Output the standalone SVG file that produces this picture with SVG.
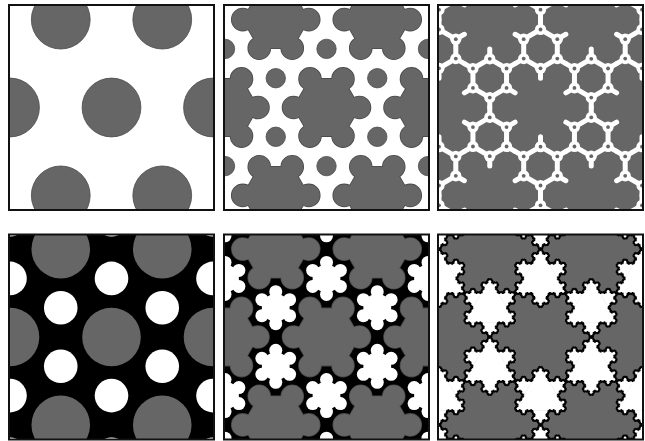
<svg xmlns="http://www.w3.org/2000/svg" width="645" height="441" viewBox="0 0 645 441">
<defs>
<style>
.fr{fill:none;stroke:#111;stroke-width:2}
.ve{vector-effect:non-scaling-stroke}
.wl{fill:none;stroke:#fff;stroke-width:5;stroke-linejoin:round;stroke-linecap:round}
</style>
<clipPath id="cp"><rect x="-102.5" y="-102.5" width="205" height="205"/></clipPath>
<circle id="c1" r="29.4" fill="#666" stroke="#4a4a4a" stroke-width="0.8"/>
<circle id="c4g" r="29.3" fill="#666"/>
<circle id="c4w" r="16.8" fill="#fff"/>
<circle id="sd" r="9.7" fill="#666" stroke="#4a4a4a" stroke-width="0.8"/>
<g id="blobshape">
<polygon points="33,0 16.5,-28.58 -16.5,-28.58 -33,0 -16.5,28.58 16.5,28.58"/>
<circle cx="33" cy="0" r="11"/><circle cx="16.5" cy="-28.58" r="11"/><circle cx="-16.5" cy="-28.58" r="11"/>
<circle cx="-33" cy="0" r="11"/><circle cx="-16.5" cy="28.58" r="11"/><circle cx="16.5" cy="28.58" r="11"/>
</g>
<g id="blob" fill="#666"><use href="#blobshape" stroke="#4a4a4a" stroke-width="1.6"/><use href="#blobshape"/></g>
<g id="star" fill="#fff">
<polygon points="0,-16 13.86,-8 13.86,8 0,16 -13.86,8 -13.86,-8"/>
<circle cx="0" cy="-16" r="6.5"/><circle cx="13.86" cy="-8" r="6.5"/><circle cx="13.86" cy="8" r="6.5"/>
<circle cx="0" cy="16" r="6.5"/><circle cx="-13.86" cy="8" r="6.5"/><circle cx="-13.86" cy="-8" r="6.5"/>
</g>
<!-- Koch outline -->
<polyline id="k1" class="ve" fill="none" points="0,0 .333333,0 .5,-.288675 .666667,0 1,0"/>
<g id="k2"><use href="#k1" transform="scale(.333333)"/><use href="#k1" transform="translate(.333333,0) rotate(-60) scale(.333333)"/><use href="#k1" transform="translate(.5,-.288675) rotate(60) scale(.333333)"/><use href="#k1" transform="translate(.666667,0) scale(.333333)"/></g>
<g id="k3"><use href="#k2" transform="scale(.333333)"/><use href="#k2" transform="translate(.333333,0) rotate(-60) scale(.333333)"/><use href="#k2" transform="translate(.5,-.288675) rotate(60) scale(.333333)"/><use href="#k2" transform="translate(.666667,0) scale(.333333)"/></g>
<g id="k4"><use href="#k3" transform="scale(.333333)"/><use href="#k3" transform="translate(.333333,0) rotate(-60) scale(.333333)"/><use href="#k3" transform="translate(.5,-.288675) rotate(60) scale(.333333)"/><use href="#k3" transform="translate(.666667,0) scale(.333333)"/></g>
<g id="ko"><use href="#k4" transform="translate(0,-1) rotate(60) scale(1.732051)"/><use href="#k4" transform="translate(.866025,.5) rotate(180) scale(1.732051)"/><use href="#k4" transform="translate(-.866025,.5) rotate(-60) scale(1.732051)"/></g>
<!-- Koch fill -->
<polygon id="f1" class="ve" points=".333333,0 .5,-.288675 .666667,0"/>
<g id="f2"><use href="#f1"/><use href="#f1" transform="scale(.333333)"/><use href="#f1" transform="translate(.333333,0) rotate(-60) scale(.333333)"/><use href="#f1" transform="translate(.5,-.288675) rotate(60) scale(.333333)"/><use href="#f1" transform="translate(.666667,0) scale(.333333)"/></g>
<g id="f3"><use href="#f1"/><use href="#f2" transform="scale(.333333)"/><use href="#f2" transform="translate(.333333,0) rotate(-60) scale(.333333)"/><use href="#f2" transform="translate(.5,-.288675) rotate(60) scale(.333333)"/><use href="#f2" transform="translate(.666667,0) scale(.333333)"/></g>
<g id="f4"><use href="#f1"/><use href="#f3" transform="scale(.333333)"/><use href="#f3" transform="translate(.333333,0) rotate(-60) scale(.333333)"/><use href="#f3" transform="translate(.5,-.288675) rotate(60) scale(.333333)"/><use href="#f3" transform="translate(.666667,0) scale(.333333)"/></g>
<g id="kf"><polygon class="ve" points="0,-1 .866025,.5 -.866025,.5"/><use href="#f4" transform="translate(0,-1) rotate(60) scale(1.732051)"/><use href="#f4" transform="translate(.866025,.5) rotate(180) scale(1.732051)"/><use href="#f4" transform="translate(-.866025,.5) rotate(-60) scale(1.732051)"/></g>
<g id="sf" fill="#fff" stroke="#fff" stroke-width=".5"><use href="#kf" transform="scale(29.3)"/></g>
<g id="so" stroke="#000" stroke-width="1.9" stroke-linejoin="round"><use href="#ko" transform="scale(29.3)"/></g>
<!-- panel 3 network -->
<path id="net" class="wl" d="M0,-19.4L16.8,-9.7L16.8,9.7L0,19.4L-16.8,9.7L-16.8,-9.7Z M0,-19.4V-29.3 M16.8,-9.7L25.37,-14.65 M16.8,9.7L25.37,14.65 M0,19.4V29.3 M-16.8,9.7L-25.37,14.65 M-16.8,-9.7L-25.37,-14.65"/>
<g id="ring"><circle r="5.6" fill="#fff"/><circle r="1.9" fill="#666"/></g>
<g id="rings">
<use href="#ring" x="0" y="-19.4"/><use href="#ring" x="16.8" y="-9.7"/><use href="#ring" x="16.8" y="9.7"/>
<use href="#ring" x="0" y="19.4"/><use href="#ring" x="-16.8" y="9.7"/><use href="#ring" x="-16.8" y="-9.7"/>
</g>
</defs>

<g id="panel1" transform="translate(111.5,107.5)">
<g clip-path="url(#cp)">
<rect x="-102.5" y="-102.5" width="205" height="205" fill="#fff"/>
<use href="#c1" x="0" y="0"/><use href="#c1" x="101.5" y="0"/><use href="#c1" x="-101.5" y="0"/>
<use href="#c1" x="50.75" y="-87.9"/><use href="#c1" x="-50.75" y="-87.9"/><use href="#c1" x="50.75" y="87.9"/><use href="#c1" x="-50.75" y="87.9"/>
</g>
<rect class="fr" x="-102.5" y="-102.5" width="205" height="205"/>
</g>

<g id="panel2" transform="translate(326.5,107.5)">
<g clip-path="url(#cp)">
<rect x="-102.5" y="-102.5" width="205" height="205" fill="#fff"/>
<use href="#blob" x="0" y="0"/><use href="#blob" x="101.5" y="0"/><use href="#blob" x="-101.5" y="0"/>
<use href="#blob" x="50.75" y="-87.9"/><use href="#blob" x="-50.75" y="-87.9"/><use href="#blob" x="50.75" y="87.9"/><use href="#blob" x="-50.75" y="87.9"/>
<use href="#sd" x="0" y="-58.6"/><use href="#sd" x="0" y="58.6"/><use href="#sd" x="101.5" y="-58.6"/><use href="#sd" x="-101.5" y="-58.6"/>
<use href="#sd" x="101.5" y="58.6"/><use href="#sd" x="-101.5" y="58.6"/><use href="#sd" x="50.75" y="-29.3"/><use href="#sd" x="-50.75" y="-29.3"/>
<use href="#sd" x="50.75" y="29.3"/><use href="#sd" x="-50.75" y="29.3"/>
</g>
<rect class="fr" x="-102.5" y="-102.5" width="205" height="205"/>
</g>

<g id="panel3" transform="translate(540.5,107.5)">
<g clip-path="url(#cp)">
<rect x="-102.5" y="-102.5" width="205" height="205" fill="#666"/>
<use href="#net" x="0" y="-58.6"/><use href="#net" x="0" y="58.6"/><use href="#net" x="101.5" y="-58.6"/><use href="#net" x="-101.5" y="-58.6"/>
<use href="#net" x="101.5" y="58.6"/><use href="#net" x="-101.5" y="58.6"/><use href="#net" x="50.75" y="-29.3"/><use href="#net" x="-50.75" y="-29.3"/>
<use href="#net" x="50.75" y="29.3"/><use href="#net" x="-50.75" y="29.3"/><use href="#net" x="0" y="-117.2"/><use href="#net" x="0" y="117.2"/>
<use href="#net" x="101.5" y="-117.2"/><use href="#net" x="-101.5" y="-117.2"/><use href="#net" x="101.5" y="117.2"/><use href="#net" x="-101.5" y="117.2"/>
<use href="#rings" x="0" y="-58.6"/><use href="#rings" x="0" y="58.6"/><use href="#rings" x="101.5" y="-58.6"/><use href="#rings" x="-101.5" y="-58.6"/>
<use href="#rings" x="101.5" y="58.6"/><use href="#rings" x="-101.5" y="58.6"/><use href="#rings" x="50.75" y="-29.3"/><use href="#rings" x="-50.75" y="-29.3"/>
<use href="#rings" x="50.75" y="29.3"/><use href="#rings" x="-50.75" y="29.3"/><use href="#rings" x="0" y="-117.2"/><use href="#rings" x="0" y="117.2"/>
<use href="#rings" x="101.5" y="-117.2"/><use href="#rings" x="-101.5" y="-117.2"/><use href="#rings" x="101.5" y="117.2"/><use href="#rings" x="-101.5" y="117.2"/>
</g>
<rect class="fr" x="-102.5" y="-102.5" width="205" height="205"/>
</g>

<g id="panel4" transform="translate(111.5,337)">
<g clip-path="url(#cp)">
<rect x="-102.5" y="-102.5" width="205" height="205" fill="#000"/>
<use href="#c4g" x="0" y="0"/><use href="#c4g" x="101.5" y="0"/><use href="#c4g" x="-101.5" y="0"/>
<use href="#c4g" x="50.75" y="-87.9"/><use href="#c4g" x="-50.75" y="-87.9"/><use href="#c4g" x="50.75" y="87.9"/><use href="#c4g" x="-50.75" y="87.9"/>
<use href="#c4w" x="0" y="-58.6"/><use href="#c4w" x="0" y="58.6"/><use href="#c4w" x="101.5" y="-58.6"/><use href="#c4w" x="-101.5" y="-58.6"/>
<use href="#c4w" x="101.5" y="58.6"/><use href="#c4w" x="-101.5" y="58.6"/><use href="#c4w" x="50.75" y="-29.3"/><use href="#c4w" x="-50.75" y="-29.3"/>
<use href="#c4w" x="50.75" y="29.3"/><use href="#c4w" x="-50.75" y="29.3"/><use href="#c4w" x="0" y="-117.2"/><use href="#c4w" x="0" y="117.2"/>
<use href="#c4w" x="101.5" y="-117.2"/><use href="#c4w" x="-101.5" y="-117.2"/><use href="#c4w" x="101.5" y="117.2"/><use href="#c4w" x="-101.5" y="117.2"/>
</g>
<rect class="fr" x="-102.5" y="-102.5" width="205" height="205"/>
</g>

<g id="panel5" transform="translate(326.5,337)">
<g clip-path="url(#cp)">
<rect x="-102.5" y="-102.5" width="205" height="205" fill="#000"/>
<use href="#blob" x="0" y="0"/><use href="#blob" x="101.5" y="0"/><use href="#blob" x="-101.5" y="0"/>
<use href="#blob" x="50.75" y="-87.9"/><use href="#blob" x="-50.75" y="-87.9"/><use href="#blob" x="50.75" y="87.9"/><use href="#blob" x="-50.75" y="87.9"/>
<use href="#star" x="0" y="-58.6"/><use href="#star" x="0" y="58.6"/><use href="#star" x="101.5" y="-58.6"/><use href="#star" x="-101.5" y="-58.6"/>
<use href="#star" x="101.5" y="58.6"/><use href="#star" x="-101.5" y="58.6"/><use href="#star" x="50.75" y="-29.3"/><use href="#star" x="-50.75" y="-29.3"/>
<use href="#star" x="50.75" y="29.3"/><use href="#star" x="-50.75" y="29.3"/><use href="#star" x="0" y="-117.2"/><use href="#star" x="0" y="117.2"/>
<use href="#star" x="101.5" y="-117.2"/><use href="#star" x="-101.5" y="-117.2"/><use href="#star" x="101.5" y="117.2"/><use href="#star" x="-101.5" y="117.2"/>
</g>
<rect class="fr" x="-102.5" y="-102.5" width="205" height="205"/>
</g>

<g id="panel6" transform="translate(540.5,337)">
<g clip-path="url(#cp)">
<rect x="-102.5" y="-102.5" width="205" height="205" fill="#666"/>
<use href="#sf" x="0" y="-58.6"/><use href="#sf" x="0" y="58.6"/><use href="#sf" x="101.5" y="-58.6"/><use href="#sf" x="-101.5" y="-58.6"/>
<use href="#sf" x="101.5" y="58.6"/><use href="#sf" x="-101.5" y="58.6"/><use href="#sf" x="50.75" y="-29.3"/><use href="#sf" x="-50.75" y="-29.3"/>
<use href="#sf" x="50.75" y="29.3"/><use href="#sf" x="-50.75" y="29.3"/><use href="#sf" x="0" y="-117.2"/><use href="#sf" x="0" y="117.2"/>
<use href="#sf" x="101.5" y="-117.2"/><use href="#sf" x="-101.5" y="-117.2"/><use href="#sf" x="101.5" y="117.2"/><use href="#sf" x="-101.5" y="117.2"/>
<use href="#so" x="0" y="-58.6"/><use href="#so" x="0" y="58.6"/><use href="#so" x="101.5" y="-58.6"/><use href="#so" x="-101.5" y="-58.6"/>
<use href="#so" x="101.5" y="58.6"/><use href="#so" x="-101.5" y="58.6"/><use href="#so" x="50.75" y="-29.3"/><use href="#so" x="-50.75" y="-29.3"/>
<use href="#so" x="50.75" y="29.3"/><use href="#so" x="-50.75" y="29.3"/><use href="#so" x="0" y="-117.2"/><use href="#so" x="0" y="117.2"/>
<use href="#so" x="101.5" y="-117.2"/><use href="#so" x="-101.5" y="-117.2"/><use href="#so" x="101.5" y="117.2"/><use href="#so" x="-101.5" y="117.2"/>
</g>
<rect class="fr" x="-102.5" y="-102.5" width="205" height="205"/>
</g>
</svg>
